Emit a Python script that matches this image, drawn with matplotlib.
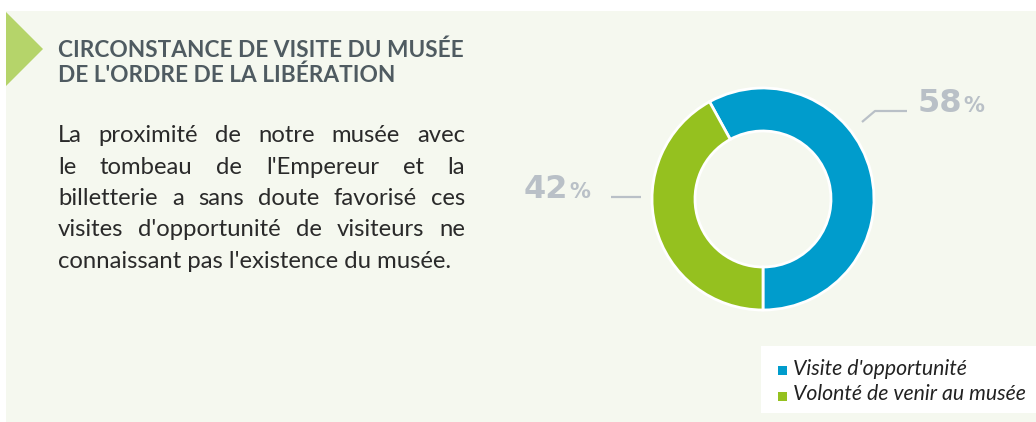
import numpy as np
import matplotlib
matplotlib.use('Agg')
import matplotlib.pyplot as plt
from matplotlib.patches import Polygon, Rectangle

# data
labels = ['Visite d\'opportunité', 'Volonté de venir au musée']
values = [58, 42]
colors = ['#009ccc', '#95c11f']

title_lines = ['CIRCONSTANCE DE VISITE DU MUSÉE', 'DE L\'ORDRE DE LA LIBÉRATION']
body_lines = ['La proximité de notre musée avec',
              'le tombeau de l\'Empereur et la',
              'billetterie a sans doute favorisé ces',
              'visites d\'opportunité de visiteurs ne',
              'connaissant pas l\'existence du musée.']

W, H = 1036, 422
bg = '#f5f8ef'
grey = '#b9c0c7'

fig = plt.figure(figsize=(W / 100, H / 100), dpi=100)
fig.patch.set_facecolor('white')
ax = fig.add_axes([0, 0, 1, 1])
ax.set_xlim(0, W)
ax.set_ylim(H, 0)
ax.axis('off')

# panel + arrow
ax.add_patch(Rectangle((6, 11), W, H, facecolor=bg, edgecolor='none', zorder=0))
ax.add_patch(Polygon([(6, 12), (43, 49), (6, 86)], closed=True, facecolor='#b5d46a', edgecolor='none', zorder=1))

renderer = fig.canvas.get_renderer()


def text_width(s, **kw):
    t = ax.text(0, 0, s, **kw)
    w = t.get_window_extent(renderer).width
    t.remove()
    return w


# title, sized to match the width of the first line
tkw = dict(family='Lato', weight='bold', color='#4f5b61')
tsize = 10 * 405 / text_width(title_lines[0], fontsize=10, **tkw)
for i, line in enumerate(title_lines):
    ax.text(58, 57 + i * 25, line, fontsize=tsize, va='baseline', ha='left', **tkw)

# body, justified
bkw = dict(family='Lato', color='#2a2a2a')
bsize = 10 * 395 / text_width(body_lines[-1], fontsize=10, **bkw)
x0, x1 = 58, 465
for i, line in enumerate(body_lines):
    y = 142 + i * 31.5
    if i == len(body_lines) - 1:
        ax.text(x0, y, line, fontsize=bsize, va='baseline', **bkw)
        continue
    words = line.split(' ')
    ws = [text_width(w, fontsize=bsize, **bkw) for w in words]
    gap = (x1 - x0 - sum(ws)) / (len(words) - 1)
    x = x0
    for w, wd in zip(words, ws):
        ax.text(x, y, w, fontsize=bsize, va='baseline', **bkw)
        x += wd + gap

# donut
cx, cy, r_out, r_in = 763, 199, 111, 68
pad = 116
pax = fig.add_axes([(cx - pad) / W, (H - cy - pad) / H, 2 * pad / W, 2 * pad / H])
pax.pie(values, colors=colors, startangle=-90, counterclock=True, radius=r_out,
        wedgeprops=dict(width=r_out - r_in, edgecolor='white', linewidth=2))
pax.set_xlim(-pad, pad)
pax.set_ylim(-pad, pad)
pax.set_aspect('equal')
pax.axis('off')

# percentage labels with leader lines
pkw = dict(family='DejaVu Sans', weight='bold', color=grey, va='baseline')
ax.plot([862, 875, 907], [122, 111, 111], color=grey, lw=1.6, solid_capstyle='butt')
ax.plot([611, 641], [197, 197], color=grey, lw=1.6, solid_capstyle='butt')
for val, xn, yb in [(values[0], 918, 112), (values[1], 524, 198)]:
    wn = text_width(str(val), fontsize=23, **pkw)
    ax.text(xn, yb, str(val), fontsize=23, ha='left', **pkw)
    ax.text(xn + wn + 1, yb, '%', fontsize=15, ha='left', **pkw)

# legend
ax.add_patch(Rectangle((761, 346), W, 67, facecolor='white', edgecolor='none', zorder=1))
lkw = dict(family='Lato', style='italic', color='#222222')
lsize = 10 * 234 / text_width(labels[1], fontsize=10, **lkw)
for i, (lab, c) in enumerate(zip(labels, colors)):
    yb = 375 + i * 25.5
    ax.add_patch(Rectangle((778, yb - 9), 9, 9, facecolor=c, edgecolor='none', zorder=2))
    ax.text(793, yb, lab, fontsize=lsize, va='baseline', zorder=3, **lkw)

fig.savefig('out.png', dpi=100, facecolor=fig.get_facecolor())
